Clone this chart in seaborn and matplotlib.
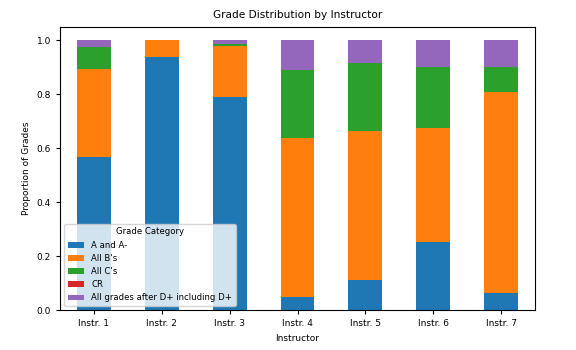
import numpy as np
import pandas as pd
import matplotlib
matplotlib.use("Agg")
import matplotlib.pyplot as plt
import seaborn as sns

# ----------------------------
# Data (proportions)
# ----------------------------
instructors = ["Instr. 1", "Instr. 2", "Instr. 3", "Instr. 4", "Instr. 5", "Instr. 6", "Instr. 7"]
categories = ["A and A-", "All B's", "All C's", "CR", "All grades after D+ including D+"]

a_grades = [0.568, 0.936, 0.789, 0.049, 0.112, 0.251, 0.063]
b_grades = [0.325, 0.064, 0.190, 0.589, 0.550, 0.424, 0.746]
c_grades = [0.081, 0.000, 0.005, 0.251, 0.253, 0.225, 0.091]
cr_grades = [0.000, 0.000, 0.000, 0.000, 0.000, 0.000, 0.000]
d_grades = [0.026, 0.000, 0.016, 0.111, 0.085, 0.100, 0.100]

df = pd.DataFrame(
    np.column_stack([a_grades, b_grades, c_grades, cr_grades, d_grades]),
    index=instructors, columns=categories,
)
# normalise so each bar reaches 1.0
df = df.div(df.sum(axis=1), axis=0)
cum = df.cumsum(axis=1)

palette = sns.color_palette("tab10", len(categories))

fig, ax = plt.subplots(figsize=(5.76, 3.5), dpi=100)
fig.subplots_adjust(left=0.104, right=0.929, bottom=0.114, top=0.924)

# draw cumulative totals from the top category down, so they look stacked
for i in range(len(categories) - 1, -1, -1):
    sns.barplot(
        x=instructors, y=cum.iloc[:, i].values, color=palette[i],
        saturation=1, width=0.5, label=categories[i], ax=ax, linewidth=0,
    )

ax.set_ylim(0, 1.05)
ax.set_xlim(-0.5, 6.5)
ax.set_title("Grade Distribution by Instructor", fontsize=7.6)
ax.set_xlabel("Instructor", fontsize=6.5)
ax.set_ylabel("Proportion of Grades", fontsize=6.5)
ax.tick_params(labelsize=6.5, length=3)
ax.set_yticks([0, 0.2, 0.4, 0.6, 0.8, 1.0])

handles, labels = ax.get_legend_handles_labels()
ax.legend(handles[::-1], labels[::-1], title="Grade Category", loc="lower left",
          fontsize=6.1, title_fontsize=6.1, framealpha=0.8)

plt.savefig("out.png", dpi=100)
plt.close()
